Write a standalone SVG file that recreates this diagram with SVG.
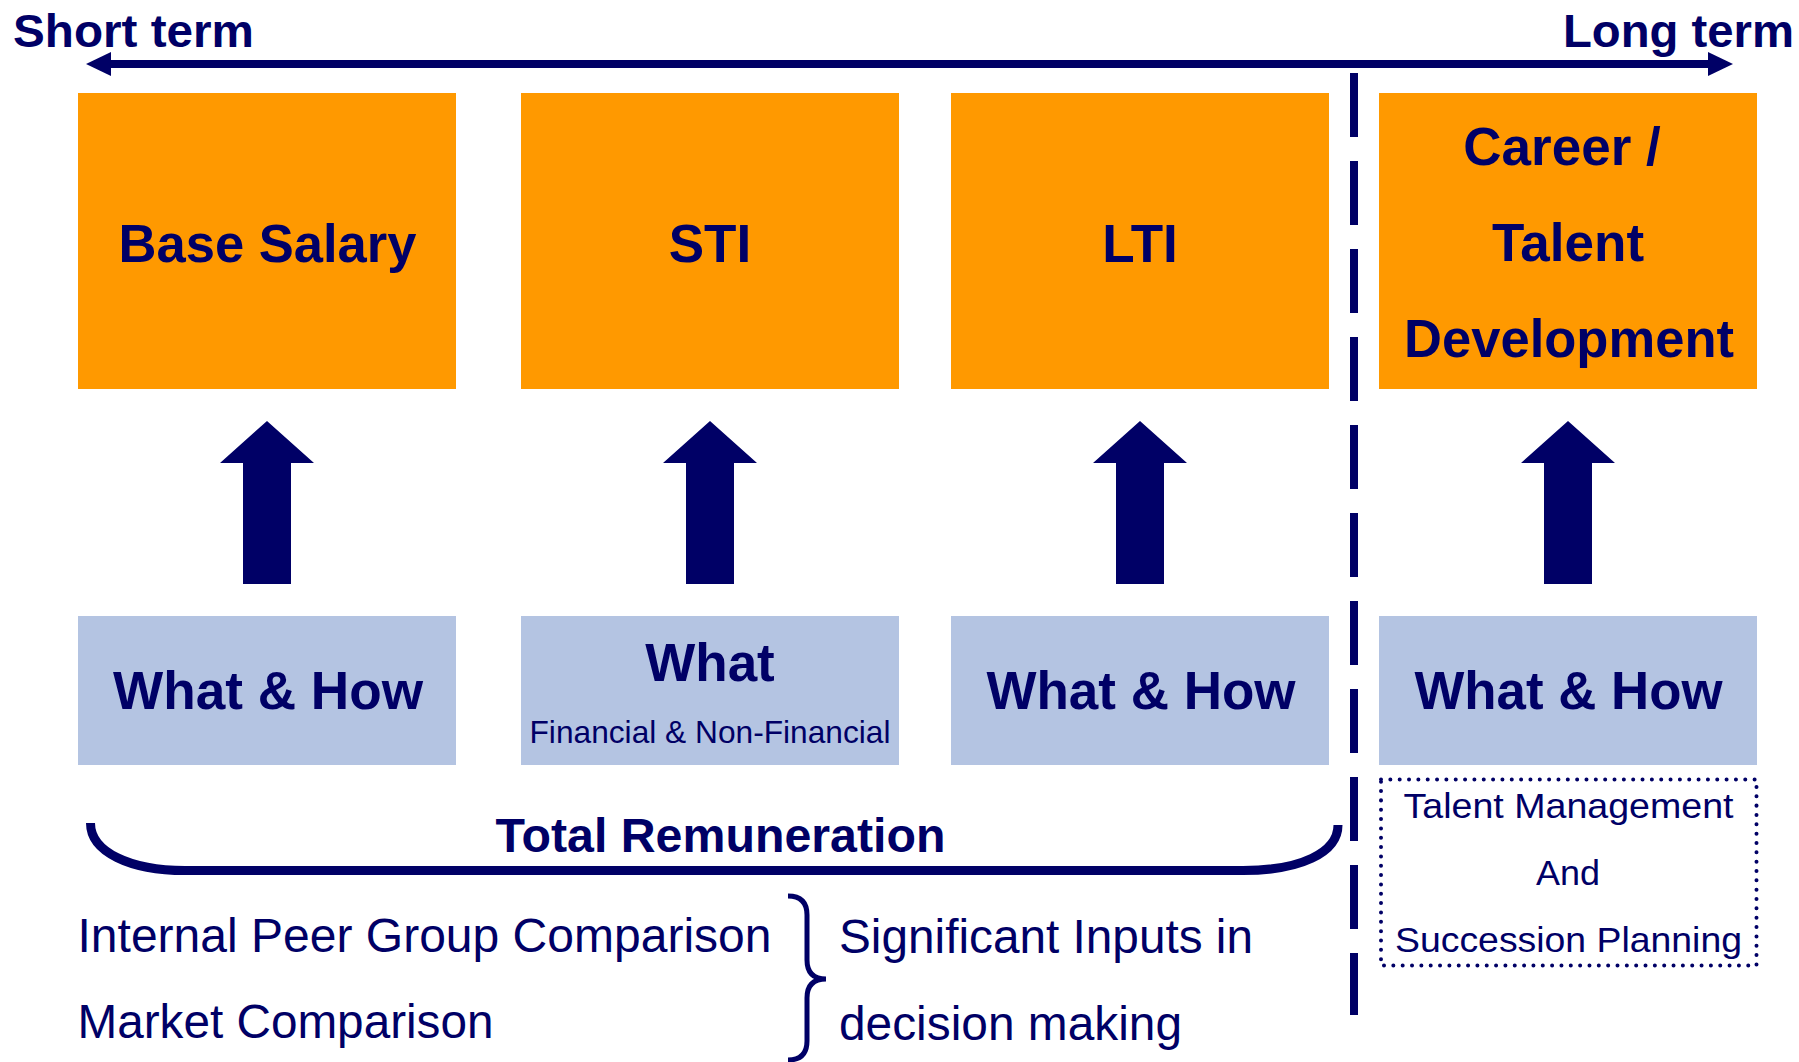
<svg xmlns="http://www.w3.org/2000/svg" width="1799" height="1062" viewBox="0 0 1799 1062">
  <style>
    .t { font-family: "Liberation Sans", Arial, sans-serif; fill: #000066; }
    .b { font-weight: bold; }
    .mid { text-anchor: middle; }
    .top { fill: #FF9900; }
    .low { fill: #B4C4E2; }
    .navy { fill: #000066; }
  </style>
  <defs>
    <marker id="head" viewBox="0 0 25 24" markerUnits="userSpaceOnUse" markerWidth="25" markerHeight="24" refX="0" refY="12" orient="auto-start-reverse">
      <path d="M0,0 L25,12 L0,24 z" fill="#000066"/>
    </marker>
    <!-- block arrow pointing up, tip at origin -->
    <path id="up" d="M0,0 L47,42 L24,42 L24,163 L-24,163 L-24,42 L-47,42 z"/>
  </defs>

  <rect width="1799" height="1062" fill="#ffffff"/>

  <!-- time axis labels -->
  <g id="axis-labels">
    <text class="t b" x="13" y="47" font-size="47" textLength="241" lengthAdjust="spacingAndGlyphs">Short term</text>
    <text class="t b" x="1563" y="47" font-size="46.5" textLength="231" lengthAdjust="spacingAndGlyphs">Long term</text>
  </g>

  <!-- connectors: time axis, divider, upward arrows -->
  <g id="connectors">
    <line x1="111" y1="64" x2="1708" y2="64" stroke="#000066" stroke-width="8" marker-start="url(#head)" marker-end="url(#head)"/>
    <line x1="1354" y1="73" x2="1354" y2="1015" stroke="#000066" stroke-width="8" stroke-dasharray="64 24"/>
    <use href="#up" class="navy" x="267" y="421"/>
    <use href="#up" class="navy" x="710" y="421"/>
    <use href="#up" class="navy" x="1140" y="421"/>
    <use href="#up" class="navy" x="1568" y="421"/>
  </g>

  <!-- reward elements -->
  <g id="base-salary">
    <rect class="top" x="78" y="93" width="378" height="296"/>
    <text class="t b mid" x="267.5" y="262" font-size="53" textLength="298" lengthAdjust="spacingAndGlyphs">Base Salary</text>
  </g>
  <g id="sti">
    <rect class="top" x="521" y="93" width="378" height="296"/>
    <text class="t b mid" x="710" y="262" font-size="53">STI</text>
  </g>
  <g id="lti">
    <rect class="top" x="951" y="93" width="378" height="296"/>
    <text class="t b mid" x="1140" y="262" font-size="53">LTI</text>
  </g>
  <g id="career">
    <rect class="top" x="1379" y="93" width="378" height="296"/>
    <text class="t b mid" x="1562" y="165" font-size="53">Career /</text>
    <text class="t b mid" x="1568" y="261" font-size="53">Talent</text>
    <text class="t b mid" x="1569" y="357" font-size="53" textLength="330" lengthAdjust="spacingAndGlyphs">Development</text>
  </g>

  <!-- performance basis -->
  <g id="basis-base">
    <rect class="low" x="78" y="616" width="378" height="149"/>
    <text class="t b mid" x="268" y="709" font-size="53" textLength="310" lengthAdjust="spacingAndGlyphs">What &amp; How</text>
  </g>
  <g id="basis-sti">
    <rect class="low" x="521" y="616" width="378" height="149"/>
    <text class="t b mid" x="710" y="681" font-size="53">What</text>
    <text class="t mid" x="710" y="743" font-size="31.5" textLength="361" lengthAdjust="spacingAndGlyphs">Financial &amp; Non-Financial</text>
  </g>
  <g id="basis-lti">
    <rect class="low" x="951" y="616" width="378" height="149"/>
    <text class="t b mid" x="1141" y="709" font-size="53" textLength="309" lengthAdjust="spacingAndGlyphs">What &amp; How</text>
  </g>
  <g id="basis-career">
    <rect class="low" x="1379" y="616" width="378" height="149"/>
    <text class="t b mid" x="1568.5" y="709" font-size="53" textLength="308" lengthAdjust="spacingAndGlyphs">What &amp; How</text>
  </g>

  <!-- talent management box -->
  <g id="talent-management">
    <rect x="1381" y="779.5" width="375.5" height="186" fill="none" stroke="#000066" stroke-width="4" stroke-linecap="round" stroke-dasharray="0.01 9.33"/>
    <text class="t mid" x="1568.5" y="818" font-size="35" textLength="330" lengthAdjust="spacingAndGlyphs">Talent Management</text>
    <text class="t mid" x="1568" y="885" font-size="35" textLength="64" lengthAdjust="spacingAndGlyphs">And</text>
    <text class="t mid" x="1568.5" y="951.5" font-size="35" textLength="347" lengthAdjust="spacingAndGlyphs">Succession Planning</text>
  </g>

  <!-- total remuneration bracket -->
  <g id="total-remuneration">
    <path d="M90.5,823 C90.5,852 130,870.5 185,870.5 L1243,870.5 C1300,870.5 1338,853 1338,825" fill="none" stroke="#000066" stroke-width="9"/>
    <text class="t b mid" x="720.5" y="851.5" font-size="47.5" textLength="450" lengthAdjust="spacingAndGlyphs">Total Remuneration</text>
  </g>

  <!-- decision inputs -->
  <g id="inputs">
    <text class="t" x="77.5" y="951.5" font-size="47.5" textLength="694" lengthAdjust="spacingAndGlyphs">Internal Peer Group Comparison</text>
    <text class="t" x="77.5" y="1038" font-size="47.5" textLength="416" lengthAdjust="spacingAndGlyphs">Market Comparison</text>
    <path d="M788,896 Q807,896 807,915 L807,960 Q807,979 826,979 Q807,979 807,998 L807,1041 Q807,1060 788,1060" fill="none" stroke="#000066" stroke-width="5"/>
    <text class="t" x="839" y="953" font-size="47.5" textLength="414" lengthAdjust="spacingAndGlyphs">Significant Inputs in</text>
    <text class="t" x="839" y="1040" font-size="47.5" textLength="343" lengthAdjust="spacingAndGlyphs">decision making</text>
  </g>
</svg>
